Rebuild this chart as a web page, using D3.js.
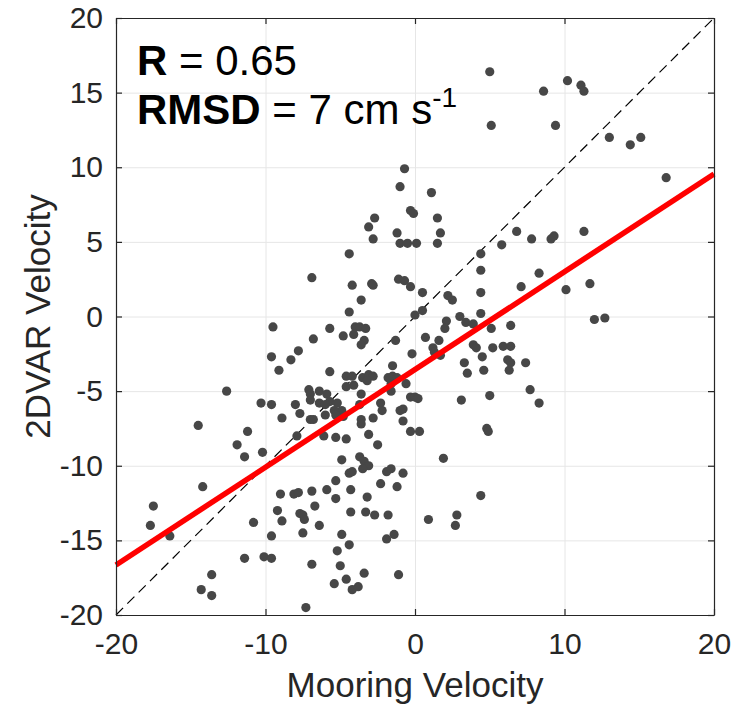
<!DOCTYPE html>
<meta charset="utf-8">
<head>
  <title>Mooring vs 2DVAR velocity</title>
</head>
<body>
<style>
body { margin: 0; background: #fff; }
svg text { font-family: "Liberation Sans", Arial, Helvetica, sans-serif; fill: #262626; }
.tick text { font-size: 30px; }
.grid line { stroke: #e6e6e6; stroke-width: 1; }
.grid path { display: none; }
.axis path, .axis line { stroke: #262626; stroke-width: 1.2; }
.label { font-size: 35px; }
.stat { font-size: 42px; fill: #000; }
</style>
<svg width="734" height="707"></svg>
<script src="https://d3js.org/d3.v7.min.js"></script>
<script>

// mooring (x) and 2DVAR (y) velocity, cm/s, one entry per point
var mooring = [5.0, 5.1, -0.7, -1.0, 1.1, -2.7, -0.3, -0.1, 1.5, 8.6,
  10.2, 11.1, 11.3, 9.4, 13.0, 14.4, 15.1, 16.8, -6.9, -9.5,
  -6.8, -9.6, -7.8, -8.3, -9.1, -12.6, -10.3, -9.6, -8.0, -7.7,
  -8.9, -7.1, -7.0, -6.4, -7.0, -6.4, -7.0, -3.1, -2.8, -1.2,
  -1.0, -0.5, 0.1, 1.7, 1.5, 6.8, 5.8, -4.4, 4.4, -4.2,
  -2.9, -2.8, -1.1, -0.7, -0.3, 0.5, 4.4, 4.4, -3.6, 2.2,
  2.5, -4.4, 0.0, 0.5, 4.4, 3.0, 2.1, 2.0, 3.4, 3.9,
  5.1, 6.4, -5.7, -4.0, -3.7, -3.3, -4.8, -4.1, -3.4, -3.6,
  -1.3, 0.7, 1.6, 1.2, 1.3, 1.7, 3.9, 4.1, 5.2, 5.9,
  6.4, 4.5, -0.2, 6.2, 6.4, 3.3, 3.5, 4.6, 6.3, -1.5,
  -5.7, -4.6, -4.2, -3.5, -3.1, -2.8, -3.2, -1.8, -1.5, -1.2,
  -0.6, -1.6, -1.6, -4.1, -3.6, -5.9, -4.6, -0.3, 0.0, 0.2,
  3.1, 5.0, -5.7, -5.2, -4.9, -5.4, -3.7, -2.3, -2.2, -1.0,
  -0.8, -6.0, -4.8, -3.6, -2.8, 7.8, 9.1, 9.3, 11.3, 7.1,
  8.3, 10.1, 11.7, 12.0, 12.7, 7.4, 7.7, 8.3, -14.5, -11.2,
  -11.9, -11.4, -10.2, -6.8, -7.9, -14.2, -17.5, -17.7, -16.4, -10.8,
  -9.0, -8.1, -7.8, -6.9, -9.2, -8.9, -7.7, -7.5, -7.4, -6.7,
  -6.4, -9.6, -7.5, -11.4, -10.1, -9.6, -6.9, -13.6, -14.3, -13.6,
  -7.3, -3.6, -0.8, -6.1, -5.3, -4.6, -3.1, -2.5, -0.3, 0.3,
  4.8, 4.9, -4.9, -3.7, -3.4, -3.1, -3.5, 1.9, -4.4, -4.2,
  -1.9, -1.6, -0.8, -5.3, -2.3, -5.9, -4.3, -1.2, -5.3, -3.2,
  4.4, -4.3, -3.3, -2.7, -1.8, 0.9, 2.8, 2.7, -4.9, -1.9,
  -1.4, -4.4, -5.2, -5.0, -3.4, -1.1, -5.4, -4.6, -4.2, -3.8,
  -6.0, -5.3];

var dvar = [16.4, 12.8, 9.9, 8.7, 8.3, 6.6, 7.1, 6.9, 6.6, 15.1,
  15.8, 15.5, 15.1, 12.8, 12.0, 11.5, 12.0, 9.3, 2.6, -0.7,
  -1.5, -2.7, -2.3, -2.9, -3.6, -5.0, -5.8, -5.9, -5.9, -6.5,
  -6.8, -4.9, -5.2, -5.0, -5.6, -5.8, -6.9, 6.0, 5.2, 5.6,
  4.9, 4.9, 4.9, 5.6, 4.9, 5.7, 4.8, 4.2, 4.2, 2.1,
  2.2, 2.1, 2.5, 2.4, 2.0, 1.6, 3.1, 1.6, 1.1, 1.4,
  1.1, 0.3, 0.1, 0.4, 0.2, 0.0, -0.3, -0.8, -0.4, -0.5,
  -0.8, -0.6, -0.8, -0.7, -0.7, -0.8, -1.3, -1.2, -1.6, -1.9,
  -1.6, -1.4, -1.6, -2.1, -2.4, -2.6, -1.9, -2.1, -2.1, -2.0,
  -2.0, -2.7, -2.5, -2.9, -3.1, -3.1, -3.8, -3.6, -3.6, -3.3,
  -3.7, -4.0, -4.0, -4.1, -3.9, -4.0, -4.3, -4.1, -4.0, -4.1,
  -4.5, -4.5, -5.0, -4.6, -5.2, -5.2, -4.7, -5.4, -5.4, -5.5,
  -5.6, -5.3, -5.7, -5.8, -6.3, -6.3, -5.9, -5.8, -6.3, -6.3,
  -6.2, -6.6, -6.7, -6.9, -6.8, 5.2, 5.2, 5.4, 5.7, 2.0,
  2.9, 1.8, 2.2, -0.2, -0.1, -3.1, -4.9, -5.8, -7.3, -7.7,
  -8.6, -9.4, -9.1, -6.9, -8.0, -11.4, -12.7, -14.0, -14.7, -13.8,
  -11.9, -11.9, -11.8, -11.7, -13.0, -13.7, -13.2, -13.3, -13.6, -12.7,
  -14.0, -14.7, -14.5, -16.2, -16.1, -16.2, -16.6, -17.3, -18.3, -18.7,
  -19.5, -7.2, -7.0, -8.0, -8.1, -8.2, -7.9, -8.6, -7.7, -7.7,
  -7.5, -7.7, -9.6, -9.4, -9.7, -10.0, -10.2, -9.5, -10.5, -10.4,
  -10.4, -10.2, -10.5, -11.0, -11.2, -11.6, -11.6, -11.4, -12.2, -12.1,
  -12.0, -13.1, -13.1, -13.3, -13.3, -13.6, -13.3, -14.0, -14.6, -14.9,
  -14.6, -15.3, -15.7, -16.7, -17.2, -17.3, -17.9, -17.6, -18.3, -18.1,
  -5.9, -6.6];

var xTicks = [-20, -10, 0, 10, 20];
var yTicks = [-20, -15, -10, -5, 0, 5, 10, 15, 20];
var fitSlope = 0.655, fitIntercept = -3.55;   // red regression line
var statR = "0.65", statRMSD = "7";

var svg = d3.select("svg"),
    mLeft = 116, mRight = 714, mTop = 18, mBottom = 615;

var x = d3.scaleLinear().domain([-20, 20]).range([mLeft, mRight]);
var y = d3.scaleLinear().domain([-20, 20]).range([mBottom, mTop]);
var plain = function(d) { return String(d); };   // hyphen minus like the original

// grid
svg.append("g").attr("class", "grid")
    .attr("transform", "translate(0," + mBottom + ")")
    .call(d3.axisBottom(x).tickValues(xTicks).tickSize(-(mBottom - mTop)).tickFormat(""));
svg.append("g").attr("class", "grid")
    .attr("transform", "translate(" + mLeft + ",0)")
    .call(d3.axisLeft(y).tickValues(yTicks).tickSize(-(mRight - mLeft)).tickFormat(""));

// 1:1 line
svg.append("line")
    .attr("x1", x(-20)).attr("y1", y(-20))
    .attr("x2", x(20)).attr("y2", y(20))
    .attr("stroke", "#000").attr("stroke-width", 1.2)
    .attr("stroke-dasharray", "10,6");

// points
svg.append("g").selectAll("circle")
    .data(mooring)
    .enter().append("circle")
    .attr("cx", function(d) { return x(d); })
    .attr("cy", function(d, i) { return y(dvar[i]); })
    .attr("r", 4.6)
    .attr("fill", "#474747");

// regression line
svg.append("line")
    .attr("x1", x(-20)).attr("y1", y(fitIntercept + fitSlope * -20))
    .attr("x2", x(20)).attr("y2", y(fitIntercept + fitSlope * 20))
    .attr("stroke", "#ff0000").attr("stroke-width", 5.5);

// axes, ticks pointing inward, box on
svg.append("g").attr("class", "axis")
    .attr("transform", "translate(0," + mBottom + ")")
    .call(d3.axisBottom(x).tickValues(xTicks).tickSizeInner(-6).tickSizeOuter(0).tickPadding(18).tickFormat(plain));
svg.append("g").attr("class", "axis")
    .attr("transform", "translate(0," + mTop + ")")
    .call(d3.axisTop(x).tickValues(xTicks).tickSizeInner(-6).tickSizeOuter(0).tickFormat(""));
svg.append("g").attr("class", "axis")
    .attr("transform", "translate(" + mLeft + ",0)")
    .call(d3.axisLeft(y).tickValues(yTicks).tickSizeInner(-6).tickSizeOuter(0).tickPadding(13).tickFormat(plain));
svg.append("g").attr("class", "axis")
    .attr("transform", "translate(" + mRight + ",0)")
    .call(d3.axisRight(y).tickValues(yTicks).tickSizeInner(-6).tickSizeOuter(0).tickFormat(""));

svg.selectAll(".axis .tick text").style("fill", "#262626");

// axis labels
svg.append("text").attr("class", "label")
    .attr("x", (mLeft + mRight) / 2).attr("y", 697)
    .attr("text-anchor", "middle")
    .text("Mooring Velocity");
svg.append("text").attr("class", "label")
    .attr("transform", "translate(50," + (mTop + mBottom) / 2 + ") rotate(-90)")
    .attr("text-anchor", "middle")
    .text("2DVAR Velocity");

// stats
var t1 = svg.append("text").attr("class", "stat").attr("x", 137).attr("y", 75);
t1.append("tspan").attr("font-weight", "bold").text("R");
t1.append("tspan").text(" = " + statR);

var t2 = svg.append("text").attr("class", "stat").attr("x", 137).attr("y", 124);
t2.append("tspan").attr("font-weight", "bold").text("RMSD");
t2.append("tspan").text(" = " + statRMSD + " cm s");
t2.append("tspan").attr("font-size", "28px").attr("dy", "-17").text("-1");

</script>
</body>
</html>
